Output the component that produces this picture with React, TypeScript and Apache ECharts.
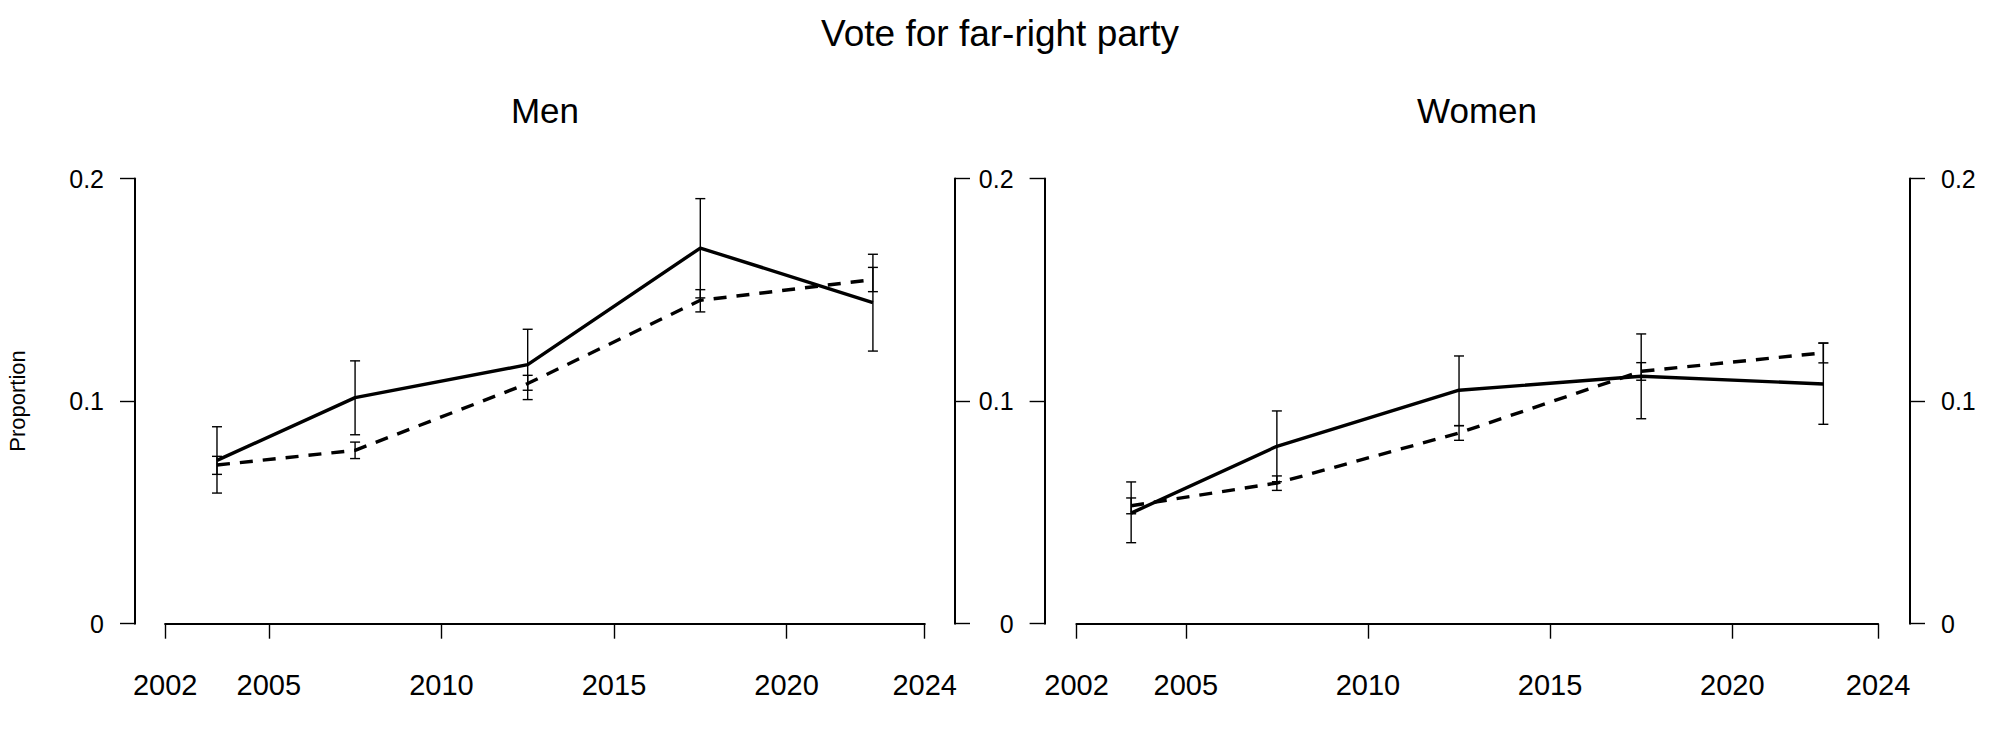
import React, { useEffect, useRef } from "react";
import * as echarts from "echarts";

const years = [2003.5, 2007.5, 2012.5, 2017.5, 2022.5];
const xTicks = [2002, 2005, 2010, 2015, 2020, 2024];

const menSolid = [0.0734, 0.1016, 0.1164, 0.1688, 0.1443];
const menSolidLo = [0.0587, 0.0849, 0.1007, 0.1464, 0.1225];
const menSolidHi = [0.0885, 0.1181, 0.1323, 0.191, 0.166];
const menDashed = [0.0713, 0.0779, 0.1079, 0.1453, 0.1546];
const menDashedLo = [0.0671, 0.0742, 0.1049, 0.1401, 0.1492];
const menDashedHi = [0.0752, 0.0816, 0.1116, 0.1501, 0.1601];

const womenSolid = [0.0497, 0.0797, 0.1049, 0.1112, 0.1077];
const womenSolidLo = [0.0364, 0.0638, 0.089, 0.0921, 0.0896];
const womenSolidHi = [0.0637, 0.0956, 0.1203, 0.1302, 0.1261];
const womenDashed = [0.053, 0.0632, 0.0857, 0.1134, 0.1217];
const womenDashedLo = [0.0494, 0.0599, 0.0824, 0.1094, 0.1172];
const womenDashedHi = [0.0565, 0.0664, 0.089, 0.1173, 0.1261];

const FONT = "Liberation Sans, Arial, Helvetica, sans-serif";

function errorBarItem(params: any, api: any) {
  const x = api.value(0);
  const lo = api.value(1);
  const hi = api.value(2);
  const pLo = api.coord([x, lo]);
  const pHi = api.coord([x, hi]);
  const hw = 5;
  const style = { stroke: "#000", lineWidth: 1.4, fill: "none" };
  return {
    type: "group",
    children: [
      { type: "line", shape: { x1: pLo[0], y1: pLo[1], x2: pHi[0], y2: pHi[1] }, style },
      { type: "line", shape: { x1: pHi[0] - hw, y1: pHi[1], x2: pHi[0] + hw, y2: pHi[1] }, style },
      { type: "line", shape: { x1: pLo[0] - hw, y1: pLo[1], x2: pLo[0] + hw, y2: pLo[1] }, style },
    ],
  };
}

function xAxisDef(gridIndex: number) {
  return {
    type: "value",
    gridIndex,
    min: 2002,
    max: 2024,
    position: "bottom",
    offset: 18,
    axisLine: { show: true, lineStyle: { color: "#000", width: 2.2 } },
    axisTick: {
      show: true,
      length: 15,
      customValues: xTicks,
      lineStyle: { color: "#000", width: 1.4 },
    },
    axisLabel: {
      show: true,
      customValues: xTicks,
      margin: 29,
      fontSize: 29,
      fontFamily: FONT,
      color: "#000",
      formatter: (v: number) => String(v),
    },
    splitLine: { show: false },
  };
}

function yAxisDef(gridIndex: number, position: string, offset: number, showLabel: boolean) {
  return {
    type: "value",
    gridIndex,
    min: 0,
    max: 0.2,
    interval: 0.1,
    position,
    offset,
    axisLine: { show: true, lineStyle: { color: "#000", width: 2 } },
    axisTick: { show: true, length: 15, lineStyle: { color: "#000", width: 1.4 } },
    axisLabel: {
      show: showLabel,
      margin: 31,
      fontSize: 25,
      fontFamily: FONT,
      color: "#000",
    },
    splitLine: { show: false },
  };
}

function lineSeries(xi: number, yi: number, vals: number[], dashed: boolean) {
  return {
    type: "line",
    xAxisIndex: xi,
    yAxisIndex: yi,
    data: years.map((y, i) => [y, vals[i]]),
    symbol: "none",
    showSymbol: false,
    lineStyle: { color: "#000", width: 3.4, type: dashed ? [13, 10] : "solid" },
    z: 3,
  };
}

function errSeries(xi: number, yi: number, lo: number[], hi: number[]) {
  return {
    type: "custom",
    xAxisIndex: xi,
    yAxisIndex: yi,
    renderItem: errorBarItem,
    encode: { x: 0, y: [1, 2] },
    data: years.map((y, i) => [y, lo[i], hi[i]]),
    z: 4,
  };
}

export default function App() {
  const ref = useRef<HTMLDivElement>(null);
  useEffect(() => {
    if (!ref.current) return;
    const chart = echarts.init(ref.current, null, { renderer: "svg" });
    const option: any = {
      animation: false,
      backgroundColor: "#fff",
      textStyle: { fontFamily: FONT },
      title: [
        {
          text: "Vote for far-right party",
          left: 1000,
          top: 15,
          textAlign: "center",
          padding: 0,
          textStyle: { fontSize: 37, fontWeight: "normal", color: "#000", fontFamily: FONT },
        },
        {
          text: "Men",
          left: 545,
          top: 93,
          textAlign: "center",
          padding: 0,
          textStyle: { fontSize: 35, fontWeight: "normal", color: "#000", fontFamily: FONT },
        },
        {
          text: "Women",
          left: 1477,
          top: 93,
          textAlign: "center",
          padding: 0,
          textStyle: { fontSize: 35, fontWeight: "normal", color: "#000", fontFamily: FONT },
        },
      ],
      grid: [
        { left: 165.2, top: 178.6, width: 759.5, height: 445.1 },
        { left: 1076.5, top: 178.6, width: 801.5, height: 445.1 },
      ],
      xAxis: [xAxisDef(0), xAxisDef(1)],
      yAxis: [
        yAxisDef(0, "left", 30.2, true),
        yAxisDef(0, "right", 30.3, false),
        yAxisDef(1, "left", 31.9, true),
        yAxisDef(1, "right", 32, true),
      ],
      graphic: [
        {
          type: "text",
          x: 17,
          y: 401,
          rotation: Math.PI / 2,
          style: {
            text: "Proportion",
            fontSize: 22,
            fontFamily: FONT,
            fill: "#000",
            align: "center",
            verticalAlign: "middle",
          },
        },
      ],
      series: [
        lineSeries(0, 0, menSolid, false),
        lineSeries(0, 0, menDashed, true),
        errSeries(0, 0, menSolidLo, menSolidHi),
        errSeries(0, 0, menDashedLo, menDashedHi),
        lineSeries(1, 2, womenSolid, false),
        lineSeries(1, 2, womenDashed, true),
        errSeries(1, 2, womenSolidLo, womenSolidHi),
        errSeries(1, 2, womenDashedLo, womenDashedHi),
      ],
    };
    chart.setOption(option);
    return () => chart.dispose();
  }, []);
  return (
    <div
      ref={ref}
      style={{ position: "absolute", left: 0, top: 0, width: 2000, height: 750 }}
    />
  );
}
